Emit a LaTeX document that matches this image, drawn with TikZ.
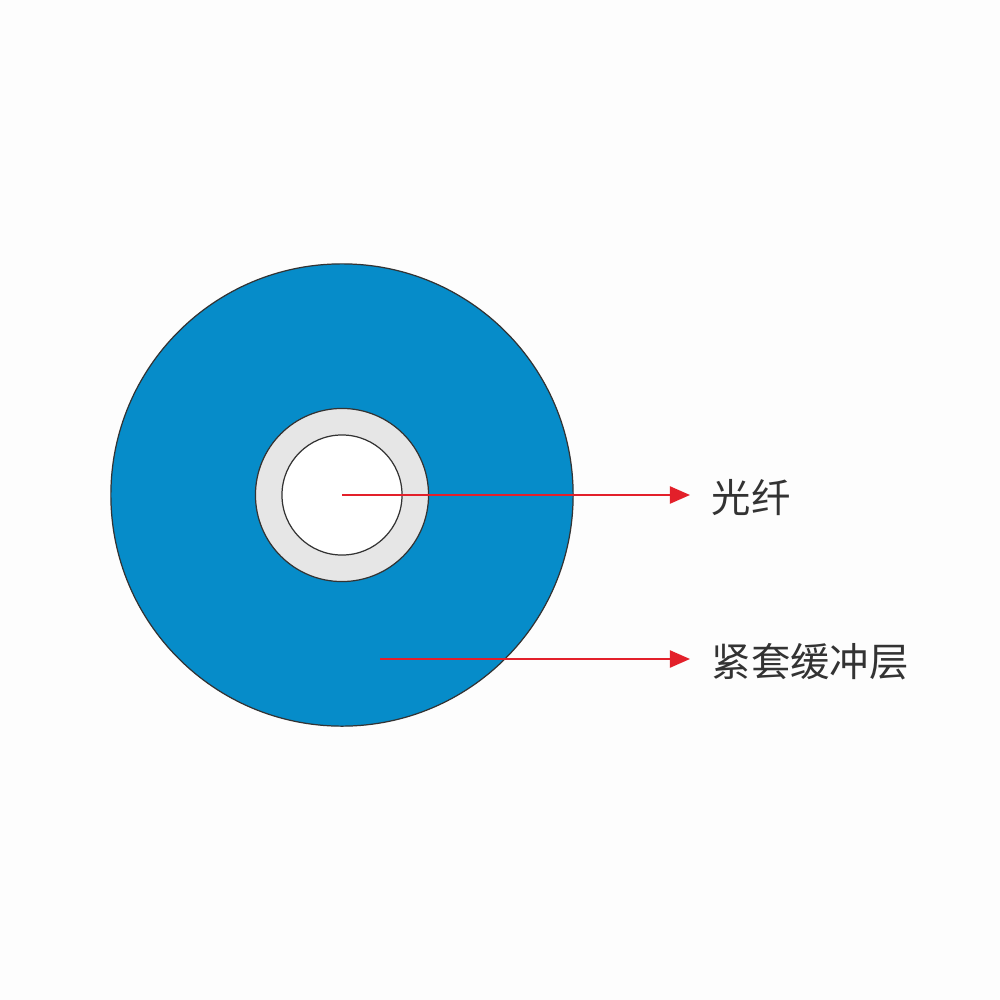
\documentclass[tikz,border=0pt]{standalone}
\usepackage{fontspec}
\setmainfont{Noto Sans CJK SC}
\usepackage{xcolor}
\usepackage{tikz}
\usetikzlibrary{arrows.meta}
\usetikzlibrary{positioning}
\definecolor{jacketblue}{HTML}{068CC9}
\definecolor{bufgrey}{HTML}{E6E6E6}
\definecolor{pointred}{HTML}{E3202A}
\definecolor{textgrey}{HTML}{333333}
\definecolor{paper}{HTML}{FDFDFD}

\begin{document}
\begin{tikzpicture}[x=0.01cm,y=-0.01cm,
  layer/.style={circle,draw=black!80,line width=0.35pt,inner sep=0pt},
  jacket/.style={layer,fill=jacketblue,minimum size=4.62cm},
  buffer/.style={layer,fill=bufgrey,minimum size=1.73cm},
  fibre/.style={layer,fill=white,minimum size=1.2cm},
  pointer/.style={-{Triangle[length=2mm,width=1.7mm]},draw=pointred,line width=0.6pt},
  tag/.style={anchor=west,inner sep=0pt,text=textgrey,font=\fontsize{11.2}{13}\selectfont}]

    \fill[paper] (0,0) rectangle (1000,1000);
    \useasboundingbox (0,0) rectangle (1000,1000);

    \node[jacket](cable) at (342,495) {};
    \node[buffer](tube) at (342,495) {};
    \node[fibre](core) at (342,495) {};

    \coordinate (in1) at (342,495);
    \coordinate (in2) at (380,659);
    \coordinate (tip1) at (690,495);
    \coordinate (tip2) at (690,659);

    \node[tag,right=0.21cm of tip1,yshift=-0.03cm](lbl1){光纤};
    \node[tag,right=0.21cm of tip2,yshift=-0.03cm](lbl2){紧套缓冲层};

    \draw[pointer](in1) -- (tip1);
    \draw[pointer](in2) -- (tip2);
\end{tikzpicture}
\end{document}
